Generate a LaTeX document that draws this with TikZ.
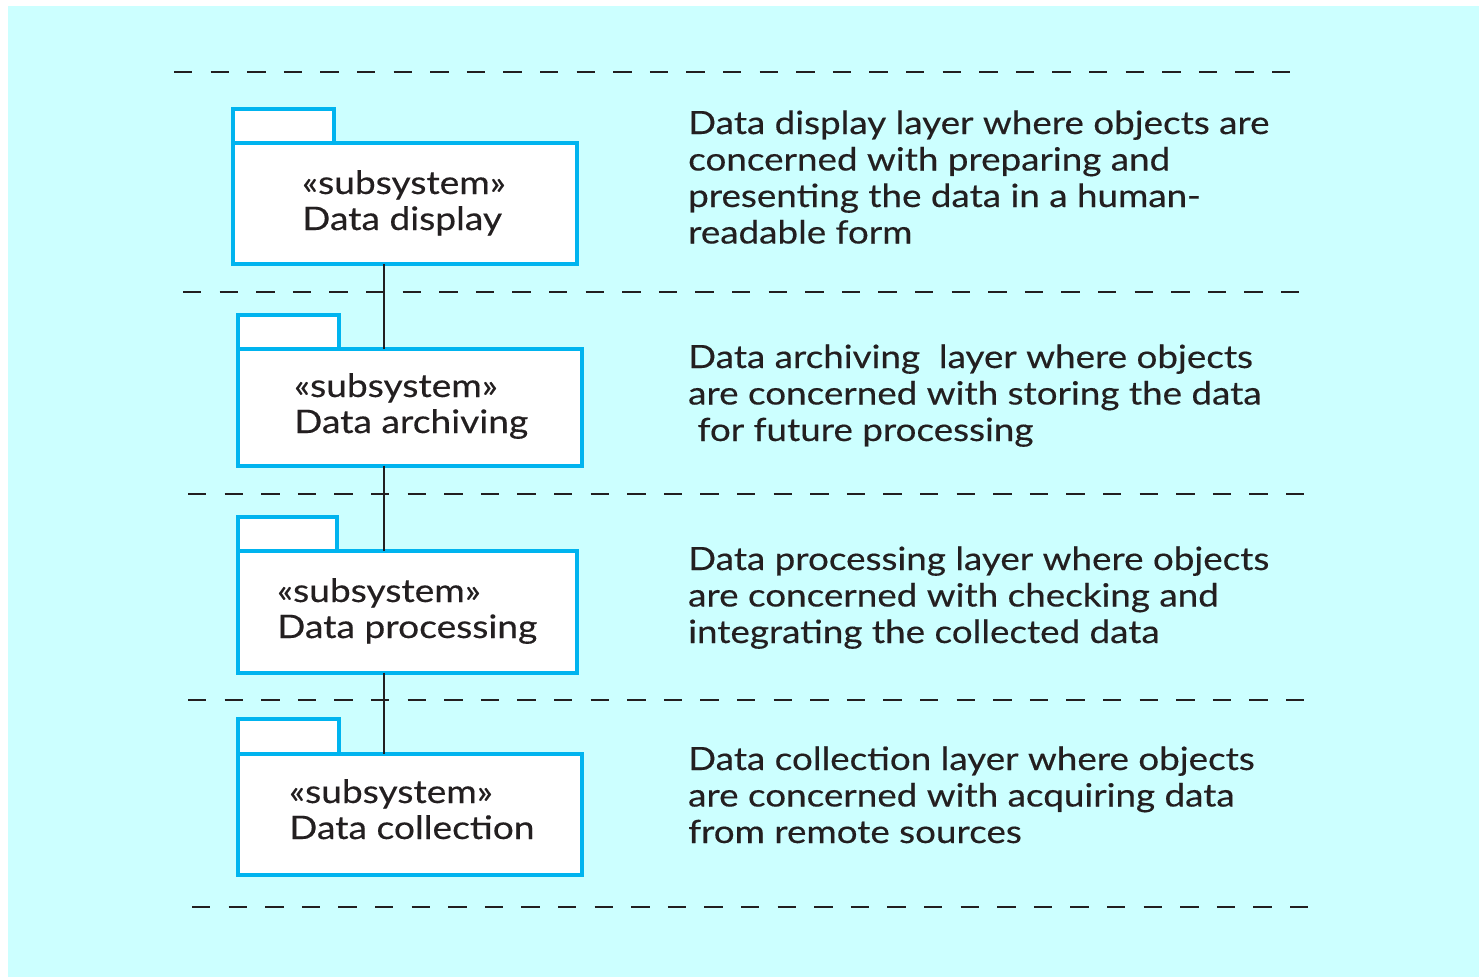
\documentclass[tikz,border=0pt]{standalone}
\usepackage{fontspec}
\setmainfont{Lato}[FakeStretch=1.15, FakeBold=0.35]
\definecolor{bg}{HTML}{CCFFFF}
\definecolor{pkgblue}{HTML}{00B4EF}
\definecolor{ink}{HTML}{231F20}
\begin{document}
\begin{tikzpicture}[x=1pt,y=-1pt,
  layerline/.style={draw=ink, line width=2pt, dash pattern=on 18.3pt off 18.3pt},
  pkgbody/.style={draw=pkgblue, line width=4pt, fill=white, rectangle, inner sep=0pt, outer sep=0pt, anchor=north west},
  pkgtext/.style={font=\fontsize{32.3}{36}\selectfont, text=ink, align=left, anchor=base west, inner sep=0pt},
  desc/.style={font=\fontsize{32}{36.5}\selectfont, text=ink, align=left, anchor=base west, inner sep=0pt},
  link/.style={draw=ink, line width=2pt}]
\useasboundingbox (0,0) rectangle (1479,977);
\fill[bg] (8,6) rectangle (1479,977);

% layer separators
\coordinate (s1a) at (174,72);  \coordinate (s1b) at (1294,72);
\coordinate (s2a) at (183,292); \coordinate (s2b) at (1303,292);
\coordinate (s3a) at (188,494); \coordinate (s3b) at (1308,494);
\coordinate (s4a) at (188,700); \coordinate (s4b) at (1308,700);
\coordinate (s5a) at (192,907); \coordinate (s5b) at (1312,907);
\foreach \i in {1,...,5} \draw[layerline] (s\i a) -- (s\i b);

% subsystem packages: tab first, then body
\node[pkgbody, minimum width=100.7pt, minimum height=34pt] (t1) at (233,108.7) {};
\node[pkgbody, minimum width=343.7pt, minimum height=121.3pt] (b1) at (233,142.7) {};
\node[pkgbody, minimum width=101pt, minimum height=33.4pt] (t2) at (237.7,315.3) {};
\node[pkgbody, minimum width=344pt, minimum height=117pt] (b2) at (237.7,348.7) {};
\node[pkgbody, minimum width=99.6pt, minimum height=33.4pt] (t3) at (237.7,517.3) {};
\node[pkgbody, minimum width=339pt, minimum height=122pt] (b3) at (237.7,550.7) {};
\node[pkgbody, minimum width=101pt, minimum height=34.4pt] (t4) at (237.7,719.3) {};
\node[pkgbody, minimum width=344pt, minimum height=121.3pt] (b4) at (237.7,753.7) {};

% the anchor is the baseline of the last line
\node[pkgtext] (p1) at (302,230) {«subsystem»\\Data display};
\node[pkgtext] (p2) at (294,433) {«subsystem»\\Data archiving};
\node[pkgtext] (p3) at (277,638) {«subsystem»\\Data processing};
\node[pkgtext] (p4) at (289,839) {«subsystem»\\Data collection};

% dependencies between layers
\coordinate (spine) at (384.3,0);
\draw[link] (b1.south -| spine) -- (b2.north -| spine);
\draw[link] (b2.south -| spine) -- (b3.north -| spine);
\draw[link] (b3.south -| spine) -- (b4.north -| spine);

% layer descriptions
\node[desc] (d1) at (688,243.5) {Data display layer where objects are\\concerned with preparing and\\presenting the data in a human-\\readable form};
\node[desc] (d2) at (688,441) {Data archiving\ \ layer where objects\\are concerned with storing the data\\\ for future processing};
\node[desc] (d3) at (688,643) {Data processing layer where objects\\are concerned with checking and\\integrating the collected data};
\node[desc] (d4) at (688,843) {Data collection layer where objects\\are concerned with acquiring data\\from remote sources};
\end{tikzpicture}
\end{document}
